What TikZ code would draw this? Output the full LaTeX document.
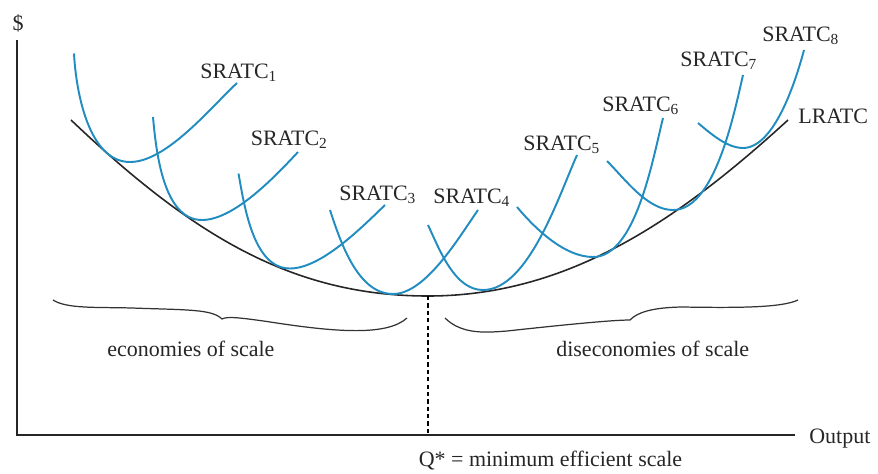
\documentclass[tikz,border=0pt]{standalone}
\usepackage{fontspec}
\setmainfont{Liberation Serif}
\definecolor{srblue}{RGB}{32,140,192}

\begin{document}
\begin{tikzpicture}[
  x=1cm, y=1cm,
  font=\fontsize{12.5}{15}\selectfont,
  axis/.style={draw=black!85, line width=0.8pt},
  lrac/.style={draw=black!85, line width=0.9pt},
  srac/.style={draw=srblue, line width=1.1pt},
  brc/.style={draw=black!80, line width=0.7pt},
  qline/.style={draw=black, line width=0.6pt, dash pattern=on 2.4pt off 1.8pt},
  lab/.style={anchor=base west, inner sep=0pt, text=black!85}
]
\useasboundingbox (-0.34,-0.76) rectangle (17.22,8.70);

% ================= axes =================
\coordinate (orig) at (0,0);
\coordinate (ytop) at (0,7.9);
\coordinate (xend) at (15.56,0);
\draw[axis] (ytop) -- (orig) -- (xend);
\node[inner sep=0pt, text=black!85] (dol) at (0.02,8.24) {\$};
\node[lab] (outp) at (15.84,-0.16) {Output};

% ================= long run average total cost =================
\coordinate (qmin) at (8.22,2.78);
\coordinate (qstar) at (8.22,0);
\draw[lrac] (1.08,6.3) .. controls (3.5,4.0) and (5.5,2.78) .. (qmin)
  .. controls (11.0,2.78) and (13.2,4.27) .. (15.42,6.3);
\node[lab] (lr) at (15.62,6.23) {LRATC};

% ================= short run curves =================
% left arm: out angle at the top, right arm: in angle at the end
\draw[srac] (1.14,7.63) to[out=-87, in=180, looseness=0.85] (2.26,5.46)
  to[out=0, in=223, looseness=0.7] (4.40,7.04);
\draw[srac] (2.72,6.36) to[out=-85, in=180, looseness=0.85] (3.70,4.30)
  to[out=0, in=227, looseness=0.7] (5.62,5.66);
\draw[srac] (4.43,5.23) to[out=-80, in=180, looseness=0.85] (5.46,3.33)
  to[out=0, in=224, looseness=0.7] (7.36,4.60);
\draw[srac] (6.26,4.50) to[out=-72, in=180, looseness=0.85] (7.52,2.82)
  to[out=0, in=235, looseness=0.7] (9.22,4.50);
\draw[srac] (8.22,4.20) to[out=-65, in=180, looseness=0.85] (9.32,2.90)
  to[out=0, in=246, looseness=0.7] (11.20,5.60);
\draw[srac] (10.00,4.56) to[out=-50, in=180, looseness=0.8] (11.52,3.56)
  to[out=0, in=256, looseness=0.7] (12.92,6.34);
\draw[srac] (11.80,5.48) to[out=-45, in=180, looseness=0.8] (13.12,4.50)
  to[out=0, in=257, looseness=0.7] (14.52,7.20);
\draw[srac] (13.62,6.24) to[out=-40, in=180, looseness=0.8] (14.52,5.74)
  to[out=0, in=255, looseness=0.7] (15.74,7.70);

\node[lab] (sr1) at (3.66,7.13) {SRATC\textsubscript{1}};
\node[lab] (sr2) at (4.67,5.79) {SRATC\textsubscript{2}};
\node[lab] (sr3) at (6.44,4.70) {SRATC\textsubscript{3}};
\node[lab] (sr4) at (8.32,4.64) {SRATC\textsubscript{4}};
\node[lab] (sr5) at (10.12,5.70) {SRATC\textsubscript{5}};
\node[lab] (sr6) at (11.70,6.48) {SRATC\textsubscript{6}};
\node[lab] (sr7) at (13.26,7.37) {SRATC\textsubscript{7}};
\node[lab] (sr8) at (14.90,7.87) {SRATC\textsubscript{8}};

% ================= braces and the minimum =================
\draw[brc] (0.72,2.70) .. controls (1.0,2.52) and (1.6,2.56) .. (2.3,2.54)
  .. controls (3.4,2.50) and (3.9,2.52) .. (4.1,2.32)
  .. controls (4.2,2.38) and (4.5,2.34) .. (5.0,2.27)
  .. controls (6.4,2.05) and (7.4,1.98) .. (7.8,2.34);
\draw[brc] (8.56,2.34) .. controls (8.9,2.0) and (9.4,2.05) .. (9.8,2.08)
  .. controls (10.9,2.2) and (11.9,2.3) .. (12.26,2.30)
  .. controls (12.4,2.45) and (12.7,2.55) .. (13.3,2.56)
  .. controls (14.5,2.54) and (15.3,2.55) .. (15.62,2.70);
\node[lab] (eco) at (1.80,1.58) {economies of scale};
\node[lab] (dis) at (10.78,1.58) {diseconomies of scale};

\draw[qline] (qmin) -- (qstar);
\node[lab] (qlab) at (8.03,-0.63) {Q* = minimum efficient scale};

\end{tikzpicture}
\end{document}
